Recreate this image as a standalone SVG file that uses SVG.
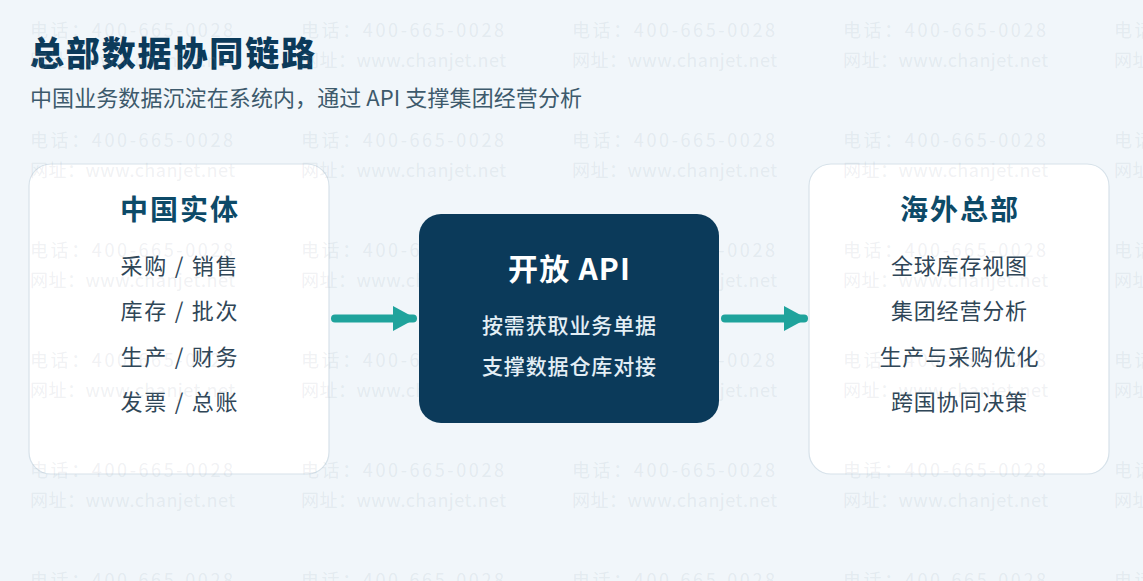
<svg xmlns="http://www.w3.org/2000/svg" width="1143" height="581" viewBox="0 0 1143 581">
  <defs>
    <style>
      .cjk { font-family: "Noto Sans CJK SC", "Noto Sans", sans-serif; }
      .title { font-size: 34px; font-weight: 900; fill: #0b3a5a; }
      .subtitle { font-size: 22px; font-weight: 400; fill: #3d5a6c; }
      .card { fill: #ffffff; stroke: #d7e2ea; stroke-width: 1.2; }
      .card-title { font-size: 28px; font-weight: 700; fill: #0d4a68; text-anchor: middle; }
      .item { font-size: 22px; font-weight: 400; fill: #2f4657; text-anchor: middle; }
      .api-box { fill: #0b3a5a; }
      .api-title { font-size: 30px; font-weight: 700; fill: #ffffff; text-anchor: middle; }
      .api-item { font-size: 21px; font-weight: 500; fill: #e3eef5; text-anchor: middle; }
      .wm { font-size: 18px; fill: #8f9eab; fill-opacity: 0.14; }
      .conn { stroke: #1fa39c; stroke-width: 8; stroke-linecap: round; fill: none; }
    </style>
    <marker id="arrow" markerUnits="userSpaceOnUse" markerWidth="24" markerHeight="26" refX="20" refY="12.5" orient="auto">
      <path d="M0,0 L23,12.5 L0,25 Z" fill="#1fa39c"/>
    </marker>
    <g id="wmunit">
      <text class="cjk wm" x="0" y="0" textLength="203" lengthAdjust="spacing">电话：400-665-0028</text>
      <text class="cjk wm" x="0" y="30" textLength="205" lengthAdjust="spacing">网址：www.chanjet.net</text>
    </g>
  </defs>

  <rect x="0" y="0" width="1143" height="581" fill="#f1f6fa"/>

  <g id="header">
    <text class="cjk title" x="30" y="66" textLength="285" lengthAdjust="spacing">总部数据协同链路</text>
    <text class="cjk subtitle" x="30" y="106" textLength="552" lengthAdjust="spacing">中国业务数据沉淀在系统内，通过 API 支撑集团经营分析</text>
  </g>

  <g id="china-entity">
    <rect class="card" x="29" y="164" width="300" height="310" rx="22"/>
    <text class="cjk card-title" x="179" y="220" textLength="118" lengthAdjust="spacing">中国实体</text>
    <text class="cjk item" x="179" y="273.5" textLength="117" lengthAdjust="spacing">采购 / 销售</text>
    <text class="cjk item" x="179" y="319" textLength="117" lengthAdjust="spacing">库存 / 批次</text>
    <text class="cjk item" x="179" y="364.5" textLength="117" lengthAdjust="spacing">生产 / 财务</text>
    <text class="cjk item" x="179" y="410" textLength="117" lengthAdjust="spacing">发票 / 总账</text>
  </g>

  <g id="overseas-hq">
    <rect class="card" x="809" y="164" width="300" height="310" rx="22"/>
    <text class="cjk card-title" x="959" y="220" textLength="118" lengthAdjust="spacing">海外总部</text>
    <text class="cjk item" x="959" y="273.5" textLength="136" lengthAdjust="spacing">全球库存视图</text>
    <text class="cjk item" x="959" y="319" textLength="136" lengthAdjust="spacing">集团经营分析</text>
    <text class="cjk item" x="959" y="364.5" textLength="159" lengthAdjust="spacing">生产与采购优化</text>
    <text class="cjk item" x="959" y="410" textLength="136" lengthAdjust="spacing">跨国协同决策</text>
  </g>

  <g id="watermark">
    <use href="#wmunit" x="30" y="37"/><use href="#wmunit" x="301" y="37"/><use href="#wmunit" x="572" y="37"/><use href="#wmunit" x="843" y="37"/><use href="#wmunit" x="1114" y="37"/>
    <use href="#wmunit" x="30" y="147"/><use href="#wmunit" x="301" y="147"/><use href="#wmunit" x="572" y="147"/><use href="#wmunit" x="843" y="147"/><use href="#wmunit" x="1114" y="147"/>
    <use href="#wmunit" x="30" y="257"/><use href="#wmunit" x="301" y="257"/><use href="#wmunit" x="572" y="257"/><use href="#wmunit" x="843" y="257"/><use href="#wmunit" x="1114" y="257"/>
    <use href="#wmunit" x="30" y="367"/><use href="#wmunit" x="301" y="367"/><use href="#wmunit" x="572" y="367"/><use href="#wmunit" x="843" y="367"/><use href="#wmunit" x="1114" y="367"/>
    <use href="#wmunit" x="30" y="477"/><use href="#wmunit" x="301" y="477"/><use href="#wmunit" x="572" y="477"/><use href="#wmunit" x="843" y="477"/><use href="#wmunit" x="1114" y="477"/>
    <use href="#wmunit" x="30" y="587"/><use href="#wmunit" x="301" y="587"/><use href="#wmunit" x="572" y="587"/><use href="#wmunit" x="843" y="587"/><use href="#wmunit" x="1114" y="587"/>
  </g>

  <g id="connectors">
    <line class="conn" x1="335" y1="318.5" x2="413" y2="318.5" marker-end="url(#arrow)"/>
    <line class="conn" x1="725" y1="318.5" x2="804" y2="318.5" marker-end="url(#arrow)"/>
  </g>

  <g id="open-api">
    <rect class="api-box" x="419" y="214" width="300" height="209" rx="22"/>
    <text class="cjk api-title" x="569" y="280" textLength="122" lengthAdjust="spacing">开放 API</text>
    <text class="cjk api-item" x="569" y="333" textLength="174" lengthAdjust="spacing">按需获取业务单据</text>
    <text class="cjk api-item" x="569" y="374" textLength="174" lengthAdjust="spacing">支撑数据仓库对接</text>
  </g>
</svg>
